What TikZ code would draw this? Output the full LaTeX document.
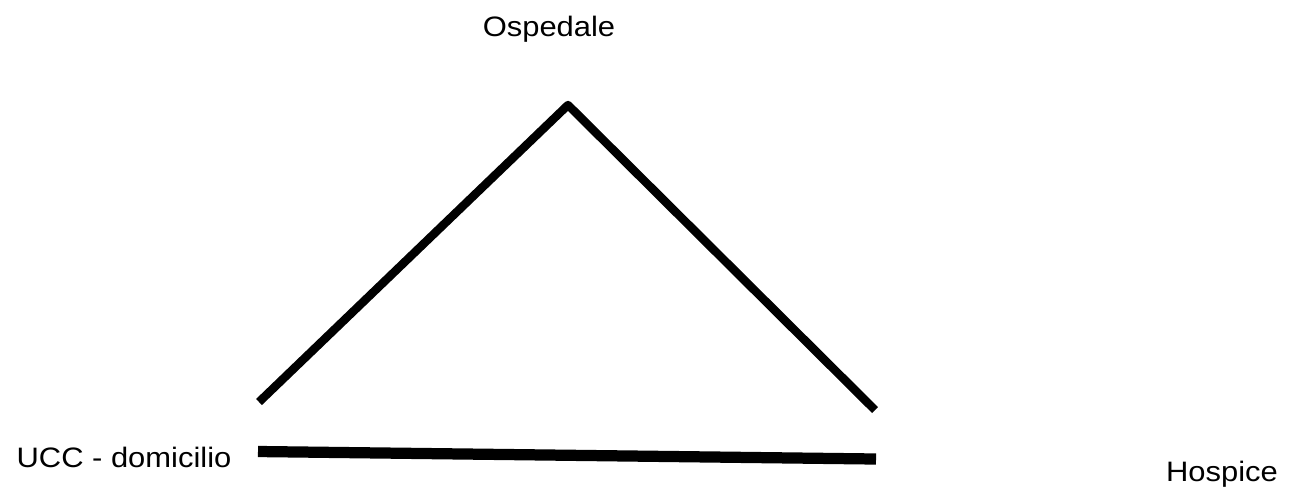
\documentclass[tikz,border=0pt]{standalone}
\usepackage{fontspec}
\setmainfont[FakeStretch=1.1]{Liberation Sans}
\usetikzlibrary{positioning}

\begin{document}
\begin{tikzpicture}[x=0.02cm, y=-0.02cm]
    \useasboundingbox (0,0) rectangle (1293,488);
    \tikzset{label/.style={font=\fontsize{16}{19}\selectfont, inner sep=0pt, anchor=base},
             bar/.style={line width=4.8pt, line join=round}}

    % Vertici del triangolo
    \coordinate (sx) at (259,402);
    \coordinate (top) at (568,105);
    \coordinate (dx) at (875,410);
    \coordinate (ba) at (258,451.5);
    \coordinate (bb) at (876,459);

    \node[label] (osp) at (549,36) {Ospedale};
    \node[label] (ucc) at (124,467) {UCC - domicilio};
    \node[label] (hos) at (1222,481) {Hospice};

    \draw[bar] (sx) -- (top) -- (dx);
    \draw[line width=6.4pt] (ba) -- (bb);
\end{tikzpicture}
\end{document}
